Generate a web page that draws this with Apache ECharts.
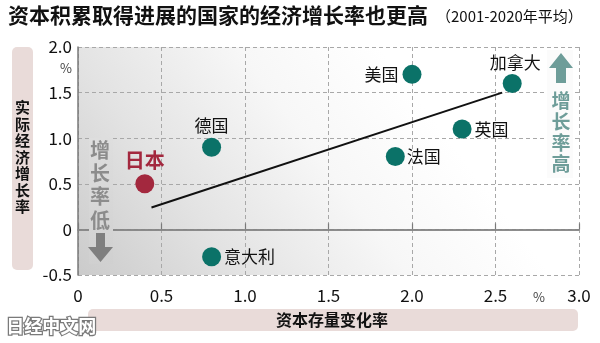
<!DOCTYPE html>
<html>
<head>
<meta charset="utf-8">
<script src="https://cdn.jsdelivr.net/npm/echarts@6/dist/echarts.min.js"></script>
<style>
html,body{margin:0;padding:0;background:#fff;}
#c{width:600px;height:343px;}
</style>
</head>
<body>
<div id="c"></div>
<script>
// ---- data ----
var countries = ['日本', '德国', '意大利', '法国', '美国', '英国', '加拿大'];
var capitalGrowth = [0.4, 0.8, 0.8, 1.9, 2.0, 2.3, 2.6];   // 资本存量变化率 (%)
var gdpGrowth = [0.5, 0.9, -0.3, 0.8, 1.7, 1.1, 1.6];      // 实际经济增长率 (%)
var trendX = [0.44, 2.54];
var trendY = [0.24, 1.50];
var xTicks = [0, 0.5, 1.0, 1.5, 2.0, 2.5, 3.0];
var yTicks = [-0.5, 0, 0.5, 1.0, 1.5, 2.0];

var FONT = '"Noto Sans CJK SC", "Noto Sans", sans-serif';
var TEAL = '#0b7268';
var RED = '#a3283e';

var labelPos = {
  '日本': {position: 'top', distance: 4},
  '德国': {position: 'top', distance: 4},
  '意大利': {position: 'right', distance: 3},
  '法国': {position: 'right', distance: 2},
  '美国': {position: 'left', distance: 4},
  '英国': {position: 'right', distance: 3},
  '加拿大': {position: 'top', distance: 3, offset: [3, 0]}
};

var pts = countries.map(function (name, i) {
  var isJp = name === '日本';
  var lp = labelPos[name];
  return {
    name: name,
    value: [capitalGrowth[i], gdpGrowth[i]],
    itemStyle: {color: isJp ? RED : TEAL, opacity: 1},
    label: {
      show: true,
      formatter: name,
      position: lp.position,
      distance: lp.distance,
      offset: lp.offset || [0, 0],
      fontFamily: FONT,
      fontSize: isJp ? 20 : 17,
      fontWeight: isJp ? 'bold' : 'normal',
      color: isJp ? RED : '#111111'
    }
  };
});

var trend = trendX.map(function (x, i) { return [x, trendY[i]]; });

var chart = echarts.init(document.getElementById('c'), null, {renderer: 'canvas'});
chart.setOption({
  animation: false,
  backgroundColor: '#ffffff',
  grid: {
    left: 78, right: 21, top: 47, bottom: 68,
    show: true, borderWidth: 0,
    backgroundColor: {
      type: 'linear', x: 0, y: 1, x2: 0.6, y2: 0,
      colorStops: [
        {offset: 0, color: '#cbcbcb'},
        {offset: 0.35, color: '#e3e3e3'},
        {offset: 0.7, color: '#f7f7f7'},
        {offset: 1, color: '#ffffff'}
      ]
    }
  },
  xAxis: {
    type: 'value', min: xTicks[0], max: xTicks[xTicks.length - 1], interval: 0.5,
    axisLine: {show: true, lineStyle: {color: '#7a7a7a', width: 1.5}},
    axisTick: {show: true, inside: true, length: 6, lineStyle: {color: '#7a7a7a', width: 1.2}},
    axisLabel: {
      fontFamily: FONT, fontSize: 17, color: '#111', margin: 12,
      formatter: function (v) { return v === 0 ? '0' : v.toFixed(1); }
    },
    splitLine: {show: true, lineStyle: {color: '#a8a8a8', type: [4, 3], width: 1}}
  },
  yAxis: {
    type: 'value', min: yTicks[0], max: yTicks[yTicks.length - 1], interval: 0.5,
    axisLine: {show: true, lineStyle: {color: '#7a7a7a', width: 1.5}},
    axisTick: {show: false},
    axisLabel: {
      fontFamily: FONT, fontSize: 17, color: '#111', margin: 6,
      formatter: function (v) { return v === 0 ? '0' : v.toFixed(1); }
    },
    splitLine: {show: true, lineStyle: {color: '#a8a8a8', type: [4, 3], width: 1}}
  },
  series: [
    {
      type: 'line', data: trend, showSymbol: false, symbol: 'none', z: 3,
      lineStyle: {color: '#111', width: 2}, silent: true,
      markLine: {
        silent: true, symbol: 'none', label: {show: false},
        lineStyle: {color: '#888', width: 1.5, type: 'solid'},
        data: [{yAxis: 0}]
      }
    },
    {
      type: 'scatter', data: pts, symbolSize: 19, z: 4
    }
  ],
  graphic: [
    // title
    {type: 'text', left: 8, top: 5, z: 10, style: {text: '资本积累取得进展的国家的经济增长率也更高', font: 'bold 21px ' + FONT, fill: '#111'}},
    {type: 'text', left: 436, top: 9, z: 10, style: {text: '（2001-2020年平均）', font: '15px ' + FONT, fill: '#111'}},
    // y axis title box
    {type: 'rect', shape: {x: 12, y: 47, width: 21, height: 223, r: 5}, style: {fill: '#e9dbd9'}, z: 1},
    {type: 'text', x: 22.5, y: 157, z: 10, style: {text: '实\n际\n经\n济\n增\n长\n率', font: 'bold 15px ' + FONT, lineHeight: 16.5, fill: '#111', align: 'center', verticalAlign: 'middle'}},
    // x axis title box
    {type: 'rect', shape: {x: 88, y: 309, width: 490, height: 22, r: 5}, style: {fill: '#e9dbd9'}, z: 1},
    {type: 'text', x: 332, y: 320, z: 10, style: {text: '资本存量变化率', font: 'bold 16px ' + FONT, fill: '#111', align: 'center', verticalAlign: 'middle'}},
    // percent signs
    {type: 'text', x: 66, y: 68, z: 10, style: {text: '%', font: '13px ' + FONT, fill: '#444', align: 'center', verticalAlign: 'middle'}},
    {type: 'text', x: 539, y: 297, z: 10, style: {text: '%', font: '13px ' + FONT, fill: '#444', align: 'center', verticalAlign: 'middle'}},
    // low growth annotation
    {type: 'rect', shape: {x: 89, y: 138, width: 24, height: 126}, z: 6,
      style: {fill: {type: 'linear', x: 0, y: 0, x2: 0, y2: 1, colorStops: [{offset: 0, color: '#dedede'}, {offset: 1, color: '#d0d0d0'}]}}},
    {type: 'text', x: 100, y: 185, z: 10, style: {text: '增\n长\n率\n低', font: 'bold 20px ' + FONT, lineHeight: 23.3, fill: '#8c8c8c', align: 'center', verticalAlign: 'middle'}},
    {type: 'polygon', z: 10, shape: {points: [[96, 233], [105, 233], [105, 247], [113, 247], [100.5, 262], [88, 247], [96, 247]]}, style: {fill: '#7f7f7f'}},
    // high growth annotation
    {type: 'rect', shape: {x: 547, y: 50, width: 26, height: 128}, style: {fill: '#fbfbfb'}, z: 6},
    {type: 'text', x: 561, y: 132, z: 10, style: {text: '增\n长\n率\n高', font: 'bold 19px ' + FONT, lineHeight: 21, fill: '#6e9d99', align: 'center', verticalAlign: 'middle'}},
    {type: 'polygon', z: 10, shape: {points: [[556, 83], [566, 83], [566, 68], [573, 68], [561, 53], [549, 68], [556, 68]]}, style: {fill: '#6e9d99'}},
    // watermark
    {type: 'text', left: 5, top: 316, z: 10, style: {text: '日经中文网', font: 'bold 18px ' + FONT, fill: '#ffffff', stroke: '#7a7a7a', lineWidth: 2.5}}
  ]
});
</script>
</body>
</html>
